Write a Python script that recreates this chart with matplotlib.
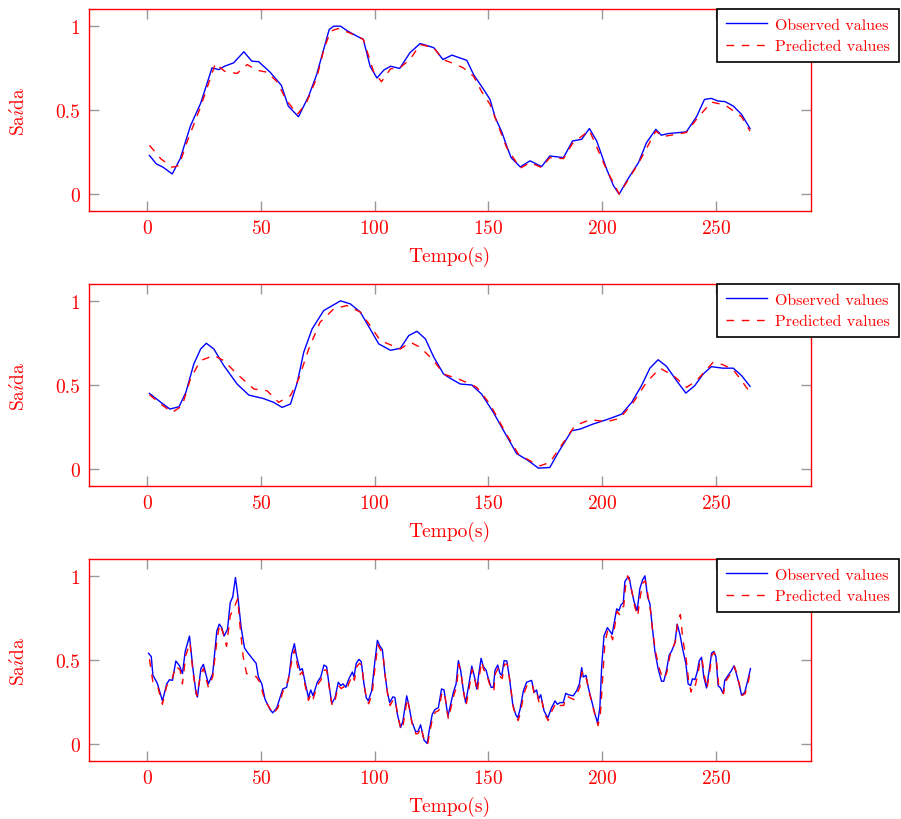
import matplotlib
matplotlib.use("Agg")
import matplotlib.pyplot as plt

# ---- series 1 ----
t_obs1 = [1, 4, 7, 11, 14.5, 19, 23.5, 28.5, 31.5, 34, 38, 42.5, 46, 49, 54, 59, 62, 66.5,
          71, 74.5, 80, 82, 85, 88, 92, 95, 98, 101, 104, 107, 111, 115.5, 120, 126, 130, 134,
          140.5, 143.5, 148, 150.7, 153, 156, 158, 160, 164, 168.3, 173.4, 177, 183, 187, 191,
          194.4, 197.6, 202, 205, 207.5, 210.8, 216, 219.5, 223.6, 226, 229, 237, 241.5, 245,
          248, 251, 254, 257.6, 261.3, 265]
y_obs1 = [0.23, 0.18, 0.16, 0.12, 0.21, 0.405, 0.54, 0.75, 0.74, 0.76, 0.78, 0.846, 0.79, 0.787,
          0.725, 0.646, 0.524, 0.46, 0.583, 0.71, 0.978, 0.998, 0.998, 0.97, 0.94, 0.92, 0.76,
          0.69, 0.737, 0.76, 0.747, 0.84, 0.895, 0.87, 0.80, 0.826, 0.795, 0.71, 0.62, 0.563,
          0.455, 0.366, 0.287, 0.217, 0.162, 0.198, 0.164, 0.227, 0.217, 0.316, 0.326, 0.39,
          0.316, 0.148, 0.05, 0.0, 0.079, 0.188, 0.306, 0.385, 0.35, 0.36, 0.37, 0.46, 0.563,
          0.569, 0.553, 0.55, 0.524, 0.474, 0.39]
t_pred1 = [1, 6, 11, 14, 17.5, 23.5, 30, 34, 39.5, 44, 48, 52.5, 57, 61, 66, 70, 74.5, 77.5,
           80.5, 84, 89, 95, 99.5, 103, 107, 111, 115.5, 120, 126, 130, 134.5, 139, 143.5, 147,
           150.7, 158, 164, 168.3, 173.4, 177, 183, 187, 194.4, 202, 207.5, 216, 223.6, 226.6,
           237, 241.5, 248, 254, 261.3, 265]
y_pred1 = [0.29, 0.21, 0.16, 0.17, 0.31, 0.52, 0.777, 0.73, 0.717, 0.77, 0.737, 0.725, 0.67,
           0.563, 0.474, 0.543, 0.69, 0.85, 0.968, 0.984, 0.958, 0.92, 0.73, 0.668, 0.745, 0.75,
           0.80, 0.889, 0.87, 0.80, 0.777, 0.75, 0.70, 0.61, 0.534, 0.277, 0.154, 0.188, 0.158,
           0.217, 0.211, 0.302, 0.379, 0.144, 0.0, 0.184, 0.375, 0.342, 0.366, 0.445, 0.547,
           0.53, 0.46, 0.375]

# ---- series 2 ----
t_obs2 = [1, 6, 10, 14, 17, 20.5, 23.5, 26, 29.3, 33.7, 39.5, 44.7, 51, 55.6, 59.3, 63, 66,
          68.8, 72.5, 77.6, 85, 89.3, 93.7, 98, 101.8, 107, 111.3, 115, 118.6, 122.3, 126,
          130.3, 133.2, 137.6, 142.7, 147, 152.2, 157.3, 162.4, 167.6, 172, 177, 180.7, 186.6,
          190.3, 196, 202, 208.6, 213, 217.3, 221, 224.6, 228.3, 232.7, 236.8, 240.7, 244.4,
          248, 253, 257.6, 261.3, 265]
y_obs2 = [0.45, 0.397, 0.357, 0.371, 0.456, 0.625, 0.714, 0.748, 0.714, 0.615, 0.506, 0.44,
          0.42, 0.397, 0.367, 0.387, 0.516, 0.694, 0.833, 0.942, 1.0, 0.982, 0.933, 0.833, 0.744,
          0.706, 0.718, 0.794, 0.819, 0.774, 0.665, 0.565, 0.54, 0.506, 0.5, 0.446, 0.337,
          0.214, 0.093, 0.05, 0.006, 0.01, 0.099, 0.228, 0.238, 0.268, 0.294, 0.327, 0.397,
          0.496, 0.6, 0.65, 0.611, 0.526, 0.452, 0.496, 0.565, 0.609, 0.6, 0.6, 0.556, 0.492]
t_pred2 = [1, 6, 11, 15.4, 19, 23.4, 29.3, 33.7, 39.5, 46.9, 52.7, 57.8, 63, 66.6, 71, 76, 82,
           87.8, 93.7, 98, 102.5, 106, 111.3, 115.7, 120, 126, 130.3, 136.8, 142, 144.9, 150.7,
           157.3, 163.2, 168.3, 172.7, 177, 181.5, 188, 194.7, 202, 207.8, 213.7, 219.5, 225.4,
           231.3, 237.1, 241.5, 248.8, 253, 257.6, 261.3, 265]
y_pred2 = [0.442, 0.387, 0.337, 0.377, 0.536, 0.645, 0.675, 0.645, 0.565, 0.476, 0.466, 0.397,
           0.437, 0.536, 0.714, 0.873, 0.952, 0.972, 0.933, 0.853, 0.764, 0.744, 0.714, 0.754,
           0.724, 0.645, 0.565, 0.536, 0.506, 0.486, 0.387, 0.222, 0.089, 0.05, 0.02, 0.04,
           0.129, 0.258, 0.294, 0.282, 0.302, 0.397, 0.516, 0.6, 0.556, 0.486, 0.526, 0.635,
           0.621, 0.591, 0.526, 0.456]

# ---- series 3 ----
t_obs3 = [0.6, 1.8, 2.5, 4.5, 6.7, 8.6, 9.8, 11.1, 12.6, 14.2, 15.5, 16.7, 18.6, 20, 21.5,
          22.1, 23.6, 24.7, 26.9, 28.8, 30.6, 31.7, 32.8, 33.8, 35.3, 36.5, 37.6, 38.8, 39.8,
          41.3, 42.8, 44.1, 46.7, 47.9, 48.9, 50.4, 51.8, 54, 55.2, 57, 59.6, 61.3, 62.5, 63.5,
          64.7, 65.7, 67.2, 68.2, 69.4, 70.9, 71.9, 72.9, 74.8, 76.3, 77.7, 78.9, 79.9, 81.1,
          82.6, 84, 85.1, 86.1, 87.3, 88.7, 90.2, 90.9, 91.9, 93.1, 94.1, 95.3, 96.3, 97.2,
          98.7, 100, 101.2, 102.2, 103.4, 104.5, 105.6, 106.6, 108, 108.9, 110, 111.4, 112.4,
          114.1, 115.1, 116.3, 118, 119, 120.2, 121.7, 123.1, 123.9, 125.3, 126.5, 128, 129.4,
          130.5, 132.2, 134.6, 135.8, 136.8, 137.8, 139, 140, 141.2, 142.7, 143.9, 144.9, 146,
          146.8, 147.8, 149, 150, 151.2, 152.2, 152.9, 154.1, 155.1, 155.9, 156.9, 158.1,
          159.2, 160.7, 162, 162.9, 163.9, 165.4, 166.8, 169, 170.1, 171.2, 172, 173, 174.5,
          176.1, 177.8, 179.3, 180.3, 181.5, 182.9, 184, 185.1, 187.3, 188.8, 190, 191, 191.7,
          192.9, 193.9, 195.4, 196.9, 198, 199, 199.8, 200.8, 202.3, 203.4, 204.4, 205.6,
          206.4, 207.4, 208.3, 209.3, 210, 211, 211.9, 212.9, 214.1, 215.4, 216.6, 217.8,
          218.8, 220, 221, 222, 223.2, 224.6, 226.1, 227.1, 228.3, 229.5, 230.5, 232, 233,
          234.2, 235.3, 236.8, 237.8, 238.9, 239.7, 240.8, 241.8, 242.7, 243.7, 244.7, 245.9,
          247.3, 248.1, 249.1, 250, 251, 252, 253.2, 253.9, 255.4, 256.9, 258, 259, 260.2,
          261.3, 262.7, 264.2, 265.2]
y_obs3 = [0.54, 0.52, 0.41, 0.36, 0.257, 0.358, 0.383, 0.379, 0.494, 0.466, 0.419, 0.55,
          0.642, 0.46, 0.30, 0.28, 0.449, 0.474, 0.358, 0.419, 0.672, 0.713, 0.692, 0.642,
          0.682, 0.84, 0.875, 0.99, 0.885, 0.692, 0.571, 0.545, 0.50, 0.48, 0.399, 0.358,
          0.267, 0.206, 0.186, 0.217, 0.328, 0.338, 0.419, 0.536, 0.597, 0.52, 0.439, 0.449,
          0.368, 0.277, 0.322, 0.287, 0.368, 0.399, 0.47, 0.46, 0.358, 0.241, 0.277, 0.368,
          0.348, 0.358, 0.338, 0.389, 0.429, 0.399, 0.48, 0.504, 0.49, 0.358, 0.277, 0.257,
          0.318, 0.48, 0.617, 0.585, 0.561, 0.419, 0.308, 0.247, 0.281, 0.277, 0.176, 0.099,
          0.136, 0.287, 0.227, 0.136, 0.075, 0.075, 0.115, 0.024, 0.004, 0.075, 0.176, 0.206,
          0.217, 0.328, 0.322, 0.166, 0.308, 0.358, 0.496, 0.439, 0.318, 0.247, 0.338, 0.464,
          0.399, 0.328, 0.439, 0.51, 0.46, 0.439, 0.389, 0.338, 0.338, 0.439, 0.47, 0.419,
          0.409, 0.496, 0.494, 0.399, 0.237, 0.176, 0.156, 0.206, 0.318, 0.368, 0.379, 0.308,
          0.322, 0.267, 0.294, 0.196, 0.156, 0.217, 0.257, 0.237, 0.247, 0.247, 0.302, 0.294,
          0.287, 0.318, 0.358, 0.455, 0.399, 0.409, 0.338, 0.257, 0.176, 0.126, 0.217, 0.46,
          0.642, 0.692, 0.672, 0.652, 0.743, 0.804, 0.794, 0.828, 0.84, 0.966, 0.986, 0.99,
          0.915, 0.844, 0.794, 0.925, 0.976, 1.0, 0.874, 0.834, 0.702, 0.551, 0.449, 0.374,
          0.374, 0.439, 0.53, 0.551, 0.601, 0.713, 0.652, 0.571, 0.48, 0.358, 0.348, 0.389,
          0.383, 0.429, 0.496, 0.516, 0.399, 0.334, 0.46, 0.54, 0.551, 0.52, 0.348, 0.334,
          0.302, 0.379, 0.409, 0.439, 0.466, 0.419, 0.358, 0.291, 0.308, 0.389, 0.449]
t_pred3 = [1, 2.5, 4.5, 6.7, 8.6, 10.5, 12.6, 14.5, 15.5, 17, 18.8, 20.2, 21.8, 23.6, 24.7,
           26.9, 28.8, 30.8, 31.9, 33.3, 34.9, 36.5, 38.6, 39.8, 40.8, 42.2, 43.7, 46, 48,
           49.5, 51.8, 55.5, 57.5, 59.8, 62, 63.5, 64.7, 66.9, 68.2, 69.4, 70.9, 72, 73, 74.8,
           76.3, 77.9, 78.9, 80, 81.3, 82.6, 84, 85.3, 86.3, 87.5, 88.9, 90.4, 91.1, 92.1, 93.3,
           94.3, 95.5, 96.5, 97.4, 98.9, 100.2, 101.4, 102.4, 103.6, 104.7, 105.8, 106.8, 108.2,
           109.1, 110.2, 111.6, 112.6, 114.3, 115.3, 116.5, 118.2, 119.2, 120.4, 121.9, 123.3,
           124.1, 125.5, 126.7, 128.2, 129.6, 130.7, 132.4, 134.8, 136, 137, 138, 139.2, 140.2,
           141.4, 142.9, 144.1, 145.1, 146.2, 147, 148, 149.2, 150.2, 151.4, 152.4, 153.1,
           154.3, 155.3, 156.1, 157.1, 158.3, 159.4, 160.9, 162.2, 163.1, 164.1, 165.6, 167,
           169.2, 170.3, 171.4, 172.2, 173.2, 174.7, 176.3, 178, 179.5, 180.5, 181.7, 183.1,
           184.2, 185.3, 187.5, 189, 190.2, 191.2, 191.9, 193.1, 194.1, 195.6, 197.1, 198.2,
           199.3, 200.2, 201.2, 202.5, 203.6, 204.6, 205.8, 206.6, 207.6, 208.5, 209.5, 210.3,
           211.2, 212.1, 213.2, 214.3, 215.6, 216.8, 218, 219, 220.2, 221.2, 222.2, 223.5,
           224.9, 226.4, 227.4, 228.5, 229.7, 230.7, 232.2, 233.2, 234.4, 235.5, 237, 238,
           239.1, 240, 241, 242, 242.9, 243.9, 244.9, 246.1, 247.5, 248.3, 249.3, 250.2, 251.2,
           252.2, 253.4, 254.1, 255.6, 257.1, 258.2, 259.2, 260.4, 261.5, 262.9, 264.4, 265.2]
y_pred3 = [0.504, 0.37, 0.348, 0.237, 0.348, 0.368, 0.464, 0.44, 0.358, 0.53, 0.601, 0.419,
           0.287, 0.419, 0.449, 0.338, 0.399, 0.632, 0.713, 0.662, 0.581, 0.763, 0.824, 0.864,
           0.702, 0.52, 0.419, 0.41, 0.40, 0.368, 0.257, 0.18, 0.217, 0.318, 0.379, 0.49, 0.561,
           0.409, 0.43, 0.35, 0.26, 0.30, 0.27, 0.35, 0.38, 0.44, 0.44, 0.34, 0.228, 0.26, 0.35,
           0.33, 0.34, 0.32, 0.37, 0.41, 0.38, 0.46, 0.48, 0.47, 0.34, 0.26, 0.24, 0.30, 0.46,
           0.59, 0.565, 0.54, 0.40, 0.29, 0.23, 0.265, 0.26, 0.165, 0.085, 0.12, 0.27, 0.21,
           0.12, 0.06, 0.065, 0.10, 0.015, 0.0, 0.06, 0.16, 0.19, 0.20, 0.31, 0.305, 0.15, 0.29,
           0.34, 0.475, 0.42, 0.30, 0.23, 0.32, 0.445, 0.38, 0.31, 0.42, 0.49, 0.44, 0.42, 0.37,
           0.32, 0.32, 0.42, 0.45, 0.40, 0.39, 0.475, 0.475, 0.38, 0.22, 0.16, 0.14, 0.19, 0.30,
           0.35, 0.36, 0.29, 0.305, 0.25, 0.275, 0.18, 0.14, 0.20, 0.24, 0.22, 0.23, 0.23, 0.285,
           0.28, 0.265, 0.30, 0.34, 0.43, 0.385, 0.39, 0.32, 0.24, 0.16, 0.11, 0.19, 0.38, 0.60,
           0.68, 0.66, 0.62, 0.72, 0.79, 0.77, 0.81, 0.82, 0.94, 1.0, 0.97, 0.90, 0.82, 0.76,
           0.88, 0.96, 0.97, 0.88, 0.80, 0.67, 0.55, 0.46, 0.40, 0.39, 0.43, 0.52, 0.56, 0.61,
           0.73, 0.77, 0.62, 0.50, 0.38, 0.31, 0.36, 0.35, 0.41, 0.48, 0.51, 0.41, 0.33, 0.45,
           0.53, 0.545, 0.51, 0.35, 0.33, 0.30, 0.37, 0.40, 0.43, 0.46, 0.42, 0.35, 0.29, 0.30,
           0.38, 0.44]

y_ticks = [0, 0.5, 1]
y_tick_labels = ["0", "0.5", "1"]
x_ticks = [0, 50, 100, 150, 200, 250]

plt.rcParams["font.family"] = "cmr10"
plt.rcParams["mathtext.fontset"] = "cm"
plt.rcParams["axes.formatter.use_mathtext"] = True

RED = "#ff0000"
BLUE = "#0000ff"
W, H = 901, 820


def draw_panel(fig, top_px, t_obs, y_obs, t_pred, y_pred):
    left, right, height = 88.5, 810.5, 202
    ax = fig.add_axes([left / W, (H - top_px - height) / H, (right - left) / W, height / H])
    ax.plot(t_obs, y_obs, color=BLUE, lw=1.0, label="Observed values")
    ax.plot(t_pred, y_pred, color=RED, lw=1.0, linestyle=(0, (5.5, 5.5)),
            label="Predicted values")
    ax.set_xlim(-25.8, 291.6)
    ax.set_ylim(-0.1, 1.1)
    ax.set_xticks(x_ticks)
    ax.set_yticks(y_ticks)
    ax.set_yticklabels(y_tick_labels)
    for s in ax.spines.values():
        s.set_color(RED)
        s.set_linewidth(1.0)
    ax.tick_params(direction="in", length=7.5, width=1.0, color="#999999",
                   labelcolor=RED, labelsize=14, pad=6,
                   top=True, right=True)
    ax.set_xlabel("Tempo(s)", color=RED, fontsize=14)
    ax.set_ylabel(r"$\mathrm{Sa\acute{\imath}da}$", color=RED, fontsize=14)
    ax.xaxis.set_label_coords(0.5, -0.175)
    ax.yaxis.set_label_coords(-0.083, 0.5)
    leg = ax.legend(loc="upper left", bbox_to_anchor=(717 / W, 1 - top_px / H),
                    bbox_transform=fig.transFigure, fontsize=11.5, labelcolor=RED,
                    fancybox=False, framealpha=1, edgecolor="black",
                    handlelength=2.6, handletextpad=0.5, borderpad=0.55,
                    labelspacing=0.45, borderaxespad=0)
    leg.get_frame().set_linewidth(1.2)
    return ax


def main():
    fig = plt.figure(figsize=(W / 100, H / 100), dpi=100)
    draw_panel(fig, 10, t_obs1, y_obs1, t_pred1, y_pred1)
    draw_panel(fig, 285, t_obs2, y_obs2, t_pred2, y_pred2)
    draw_panel(fig, 560, t_obs3, y_obs3, t_pred3, y_pred3)
    fig.savefig("out.png", dpi=100)


if __name__ == "__main__":
    main()
